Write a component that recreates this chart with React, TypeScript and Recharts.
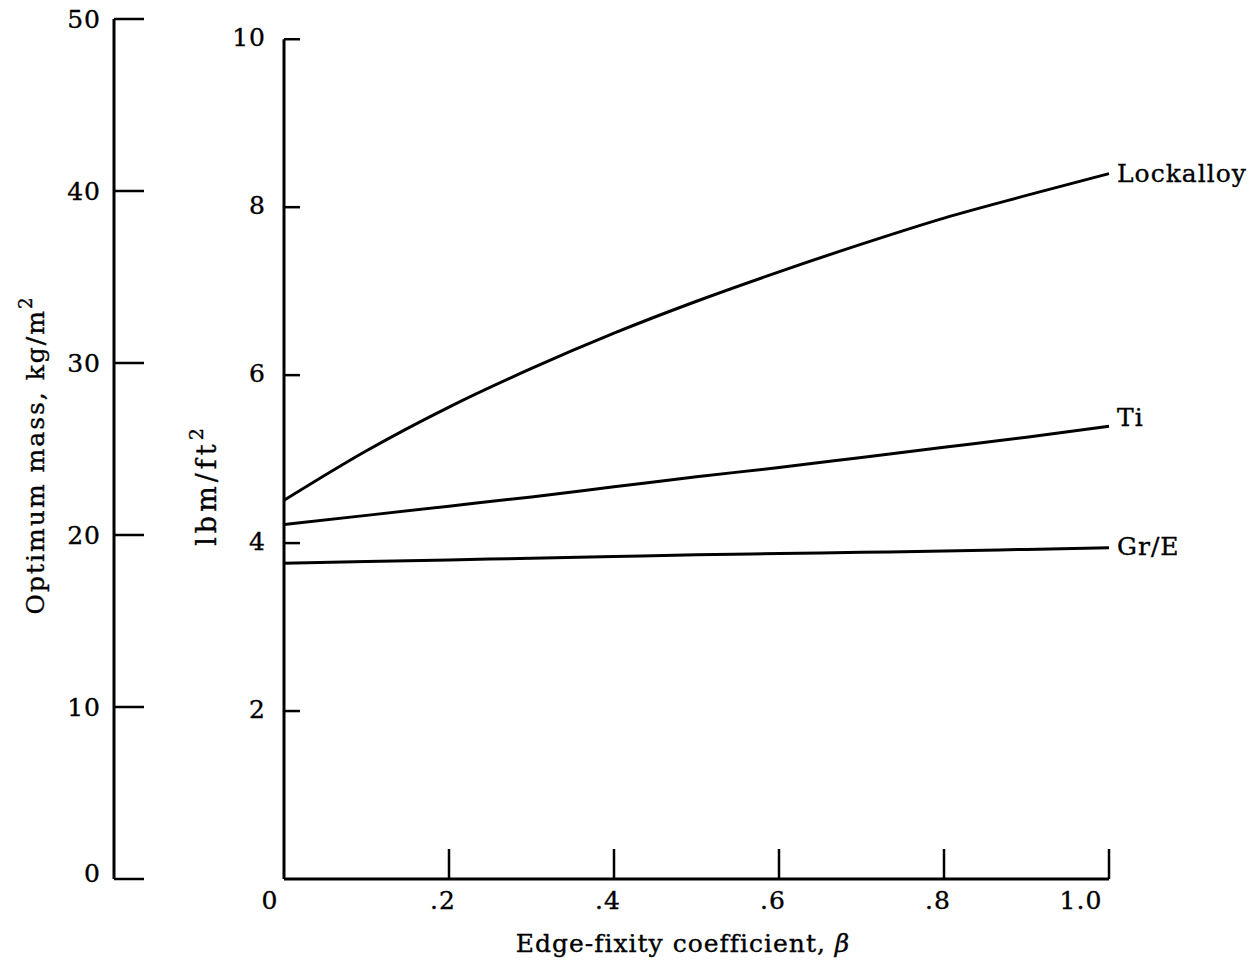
import React from 'react'
import { LineChart, Line, XAxis, YAxis, ReferenceLine, Label, LabelList } from 'recharts'

const beta = [0, 0.1, 0.2, 0.3, 0.4, 0.5, 0.6, 0.7, 0.8, 0.9, 1.0]
const lockalloy = [4.51, 5.1, 5.62, 6.08, 6.5, 6.88, 7.23, 7.56, 7.87, 8.14, 8.4]
const titanium = [4.22, 4.33, 4.44, 4.55, 4.67, 4.79, 4.9, 5.02, 5.14, 5.26, 5.39]
const grE = [3.76, 3.78, 3.8, 3.82, 3.84, 3.86, 3.875, 3.89, 3.905, 3.925, 3.945]

const xTicks = [0, 0.2, 0.4, 0.6, 0.8, 1.0]
const lbmTicks = [2, 4, 6, 8, 10]
const kgTicks = [0, 10, 20, 30, 40, 50]

// 1 lbm/ft^2 = 4.8824 kg/m^2
const KG_PER_LBM = 4.8824
const kgMax = 50
const lbmMax = kgMax / KG_PER_LBM

// axis ids: inner (lbm) sorts before outer (kg)
const LBM = 'axis1'
const KG = 'axis2'

const data = beta.map((b, i) => ({
  beta: b,
  lockalloy: lockalloy[i],
  ti: titanium[i],
  gre: grE[i],
}))

const FONT = 'DejaVu Serif'
const INK = '#000'
const textStyle = {
  fontFamily: FONT,
  fontSize: 25,
  letterSpacing: 1,
  fill: INK,
  stroke: INK,
  strokeWidth: 0.35,
}

const fmtX = (v: number) => (v === 0 ? '0' : v === 1 ? '1.0' : String(v).replace(/^0/, ''))

function XTick({ x, y, payload }: any) {
  const v = payload.value as number
  const shift = v === 0 ? -14 : v === 1 ? -28 : -6
  return (
    <g>
      {v !== 0 && <line x1={x} x2={x} y1={y} y2={y - 30} stroke={INK} strokeWidth={2.5} />}
      <text x={x + shift} y={y + 30} textAnchor="middle" {...textStyle}>
        {fmtX(v)}
      </text>
    </g>
  )
}

function KgTick({ x, y, payload }: any) {
  const lift = payload.value === 0 ? -6 : 0
  return (
    <g>
      <line x1={x} x2={x + 30} y1={y} y2={y} stroke={INK} strokeWidth={2.5} />
      <text x={x - 13} y={y + 9 + lift} textAnchor="end" {...textStyle}>
        {payload.value}
      </text>
    </g>
  )
}

function LbmTick({ x, y, payload }: any) {
  return (
    <g>
      <line x1={x} x2={x + 16} y1={y} y2={y} stroke={INK} strokeWidth={2.5} />
      <text x={x - 18} y={y + 7} textAnchor="end" {...textStyle}>
        {payload.value}
      </text>
    </g>
  )
}

const endLabel = (name: string, dy: number) => (props: any) => {
  if (props.index !== beta.length - 1) return null
  return (
    <text x={props.x + 8} y={props.y + dy} {...textStyle}>
      {name}
    </text>
  )
}

export default function App() {
  return (
    <div style={{ position: 'absolute', left: 0, top: 0, background: '#fff' }}>
      <LineChart
        width={1250}
        height={969}
        data={data}
        margin={{ top: 19, right: 141, left: 0, bottom: 0 }}
      >
        <XAxis
          dataKey="beta"
          type="number"
          domain={[0, 1]}
          ticks={xTicks}
          height={90}
          tickSize={0}
          tickMargin={0}
          tickLine={false}
          tick={<XTick />}
          axisLine={{ stroke: INK, strokeWidth: 3 }}
        >
          <Label
            content={() => (
              <text x={683} y={952} textAnchor="middle" {...textStyle}>
                Edge-fixity coefficient,{' '}
                <tspan fontStyle="italic">β</tspan>
              </text>
            )}
          />
        </XAxis>
        <YAxis
          yAxisId={LBM}
          orientation="left"
          type="number"
          domain={[0, lbmMax]}
          ticks={lbmTicks}
          width={170}
          tickSize={0}
          tickMargin={0}
          tickLine={false}
          axisLine={false}
          tick={<LbmTick />}
          allowDataOverflow
        >
          <Label
            content={() => (
              <text
                x={216}
                y={485}
                textAnchor="middle"
                transform="rotate(-90, 216, 485)"
                {...textStyle}
                fontSize={27}
                letterSpacing={4}
              >
                lbm/ft
                <tspan dy={-13} fontSize={19}>2</tspan>
              </text>
            )}
          />
        </YAxis>
        <YAxis
          yAxisId={KG}
          orientation="left"
          type="number"
          domain={[0, kgMax]}
          ticks={kgTicks}
          width={114}
          tickSize={0}
          tickMargin={0}
          tickLine={false}
          axisLine={{ stroke: INK, strokeWidth: 3 }}
          tick={<KgTick />}
          allowDataOverflow
        >
          <Label
            content={() => (
              <text
                x={44}
                y={455}
                textAnchor="middle"
                transform="rotate(-90, 44, 455)"
                {...textStyle}
                letterSpacing={2}
              >
                Optimum mass, kg/m
                <tspan dy={-12} fontSize={18}>2</tspan>
              </text>
            )}
          />
        </YAxis>
        <ReferenceLine
          yAxisId={LBM}
          segment={[
            { x: 0, y: 0 },
            { x: 0, y: 10 },
          ]}
          stroke={INK}
          strokeWidth={3}
        />
        <Line
          yAxisId={LBM}
          dataKey="lockalloy"
          type="monotone"
          stroke={INK}
          strokeWidth={3}
          dot={false}
          isAnimationActive={false}
        >
          <LabelList content={endLabel('Lockalloy', 8)} />
        </Line>
        <Line
          yAxisId={LBM}
          dataKey="ti"
          type="monotone"
          stroke={INK}
          strokeWidth={3}
          dot={false}
          isAnimationActive={false}
        >
          <LabelList content={endLabel('Ti', 0)} />
        </Line>
        <Line
          yAxisId={LBM}
          dataKey="gre"
          type="monotone"
          stroke={INK}
          strokeWidth={3}
          dot={false}
          isAnimationActive={false}
        >
          <LabelList content={endLabel('Gr/E', 7)} />
        </Line>
      </LineChart>
    </div>
  )
}
